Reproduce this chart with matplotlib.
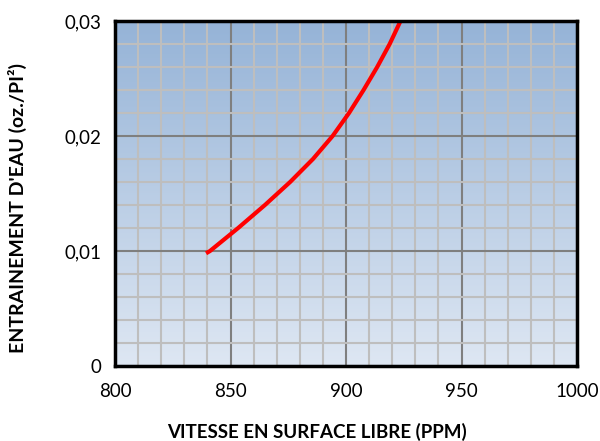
import matplotlib
matplotlib.use("Agg")
import matplotlib.pyplot as plt
import numpy as np
from matplotlib.ticker import MultipleLocator, FuncFormatter

plt.rcParams['font.family'] = ['Lato', 'DejaVu Sans']

# Data
speed = [839.4, 841.1, 853.3, 864.9, 875.8, 885.7, 894.2, 901.3, 907.6, 913.5, 918.9, 923.6]
entrainment = [0.0098, 0.0100, 0.0120, 0.0140, 0.0160, 0.0180, 0.0200, 0.0220, 0.0240, 0.0260, 0.0280, 0.0300]

x_ticks = [800, 850, 900, 950, 1000]
y_ticks = [0, 0.01, 0.02, 0.03]
x_label = "VITESSE EN SURFACE LIBRE (PPM)"
y_label = "ENTRAINEMENT D'EAU (oz./PI²)"

fig = plt.figure(figsize=(6.0, 4.41), dpi=100)
ax = fig.add_axes([0.1917, 0.170, 0.7700, 0.7824])

# gradient background
top = np.array([149, 179, 215]) / 255
bot = np.array([222, 231, 243]) / 255
t = np.linspace(0, 1, 256)[:, None]
grad = (top * (1 - t) + bot * t)[:, None, :]
ax.imshow(grad, extent=[800, 1000, 0, 0.03], aspect='auto', origin='upper', zorder=0,
          interpolation='bilinear')

ax.set_xlim(800, 1000)
ax.set_ylim(0, 0.03)
ax.set_xticks(x_ticks)
ax.set_yticks(y_ticks)
ax.xaxis.set_minor_locator(MultipleLocator(10))
ax.yaxis.set_minor_locator(MultipleLocator(0.002))
ax.yaxis.set_major_formatter(FuncFormatter(lambda v, p: "0" if v == 0 else f"{v:.2f}".replace('.', ',')))
ax.xaxis.set_major_formatter(FuncFormatter(lambda v, p: f"{v:.0f}"))

ax.grid(which='minor', color='#BEBEBE', linewidth=1.5, zorder=1)
ax.grid(which='major', color='#7F7F7F', linewidth=1.5, zorder=1.1)
ax.set_axisbelow(True)

ax.tick_params(which='both', length=0)
ax.tick_params(axis='x', pad=12, labelsize=13.5)
ax.tick_params(axis='y', pad=10, labelsize=13.5)

for s in ax.spines.values():
    s.set_linewidth(2.5)
    s.set_color('black')
    s.set_zorder(5)

ax.plot(speed, entrainment, color='#FF0000', linewidth=3, solid_capstyle='butt',
        solid_joinstyle='round', zorder=3, clip_on=False)

ax.set_xlabel(x_label, fontsize=13.5, fontweight='bold')
ax.set_ylabel(y_label, fontsize=14, fontweight='bold')
ax.xaxis.set_label_coords(0.437, -0.165)
ax.yaxis.set_label_coords(-0.19, 0.458)

fig.savefig("out.png", dpi=100)
